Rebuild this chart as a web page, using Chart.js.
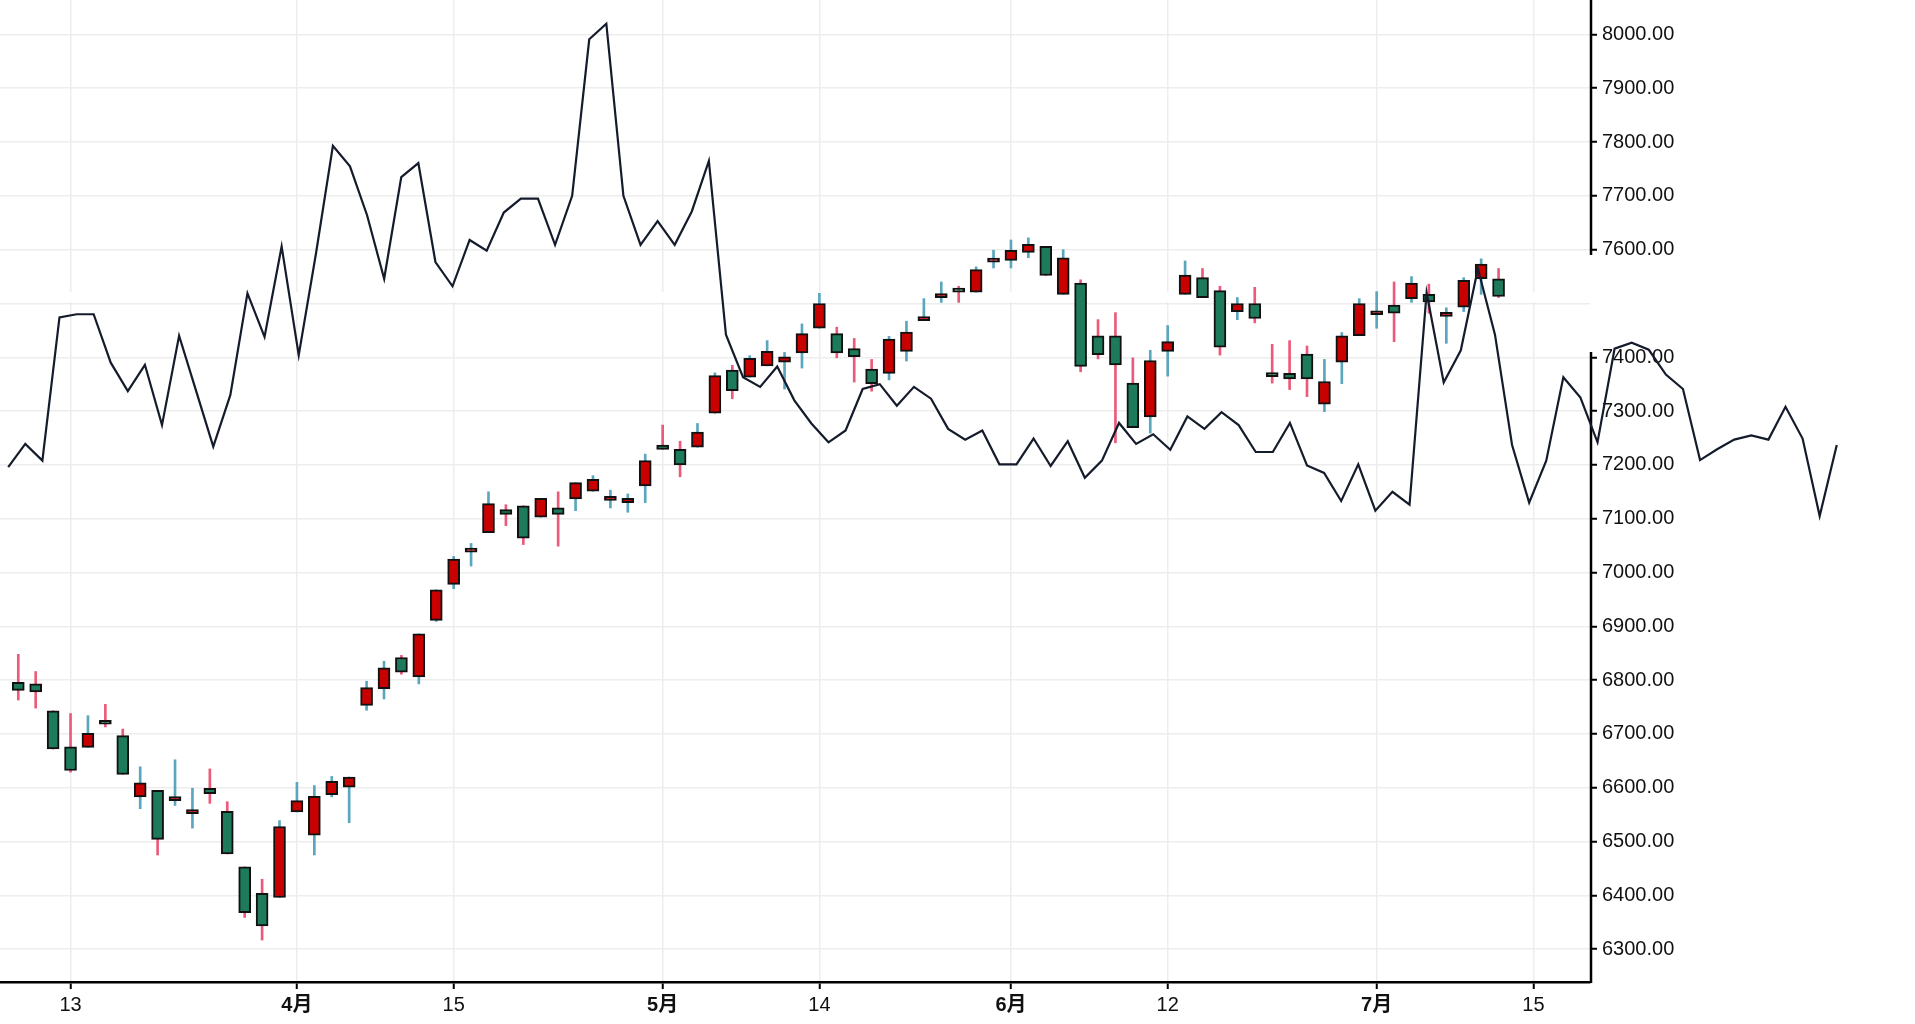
<!DOCTYPE html>
<html><head><meta charset="utf-8">
<script src="https://cdn.jsdelivr.net/npm/chart.js@4/dist/chart.umd.min.js"></script>
<style>html,body{margin:0;padding:0;background:#fff;overflow:hidden}canvas{display:block}</style>
</head><body>
<canvas id="c" width="1915" height="1024"></canvas>
<script>
// ---- data (trading-day index 0..85) ----
const candleOpen  = [6796,6793,6743,6676,6675,6722,6697,6583,6595,6576,6552,6599,6556,6453,6404,6396,6555,6512,6587,6601,6753,6784,6842,6806,6911,6978,7038,7074,7117,7124,7103,7120,7137,7151,7134,7130,7161,7237,7229,7233,7296,7376,7363,7384,7391,7408,7454,7444,7416,7378,7370,7411,7468,7511,7525,7521,7577,7580,7595,7606,7517,7538,7440,7440,7352,7289,7411,7517,7548,7524,7485,7500,7368,7370,7406,7313,7391,7440,7479,7497,7509,7517,7476,7493,7546,7546];
const candleClose = [6781,6778,6672,6632,6701,6718,6625,6609,6504,6579,6556,6589,6477,6368,6343,6528,6576,6584,6612,6620,6786,6823,6815,6886,6968,7025,7042,7128,7108,7064,7138,7108,7167,7173,7138,7138,7208,7229,7200,7261,7366,7338,7398,7411,7401,7444,7500,7408,7401,7351,7434,7447,7472,7517,7521,7563,7581,7599,7610,7552,7585,7383,7405,7386,7269,7394,7429,7553,7511,7419,7500,7472,7364,7360,7360,7355,7440,7500,7483,7482,7538,7503,7483,7543,7573,7513];
const candleHigh  = [6848,6816,6743,6738,6734,6755,6709,6639,6595,6652,6599,6635,6574,6453,6430,6539,6610,6604,6621,6620,6798,6835,6846,6886,6968,7030,7054,7150,7126,7124,7138,7150,7167,7180,7153,7146,7220,7274,7244,7277,7371,7385,7403,7431,7409,7462,7519,7456,7435,7396,7439,7467,7509,7540,7532,7568,7599,7618,7622,7606,7600,7544,7470,7483,7399,7413,7459,7579,7565,7532,7511,7530,7424,7431,7421,7396,7446,7509,7522,7540,7550,7536,7492,7548,7583,7565];
const candleLow   = [6763,6748,6672,6629,6675,6713,6625,6561,6475,6567,6525,6571,6477,6359,6317,6396,6555,6475,6583,6535,6744,6765,6811,6793,6909,6970,7012,7074,7087,7052,7103,7049,7115,7151,7120,7112,7130,7229,7178,7233,7296,7323,7363,7384,7341,7380,7454,7399,7354,7337,7358,7393,7468,7502,7502,7521,7566,7566,7585,7552,7517,7373,7397,7241,7269,7259,7365,7517,7511,7404,7470,7464,7352,7340,7327,7299,7351,7440,7454,7429,7502,7482,7426,7485,7517,7511];
// overlay line (its own, denser day axis, index 0..107)
const lineValues = [7196,7239,7208,7474,7480,7480,7390,7337,7386,7274,7440,7337,7234,7330,7519,7438,7606,7404,7591,7793,7755,7664,7546,7735,7761,7577,7532,7618,7598,7669,7695,7695,7609,7700,7991,8020,7700,7609,7653,7609,7671,7765,7442,7363,7345,7383,7320,7277,7242,7264,7341,7350,7310,7345,7323,7267,7247,7264,7201,7201,7249,7198,7244,7176,7208,7278,7239,7257,7228,7290,7267,7298,7274,7224,7224,7278,7199,7185,7133,7201,7115,7150,7126,7520,7353,7413,7565,7442,7237,7130,7208,7363,7325,7242,7416,7427,7414,7368,7341,7209,7229,7247,7255,7247,7308,7249,7105,7237];
const tickIndex  = [3,16,25,37,46,57,66,78,87];
const tickLabels = ['13','4月','15','5月','14','6月','12','7月','15'];
const yTicks = [6300,6400,6500,6600,6700,6800,6900,7000,7100,7200,7300,7400,7500,7600,7700,7800,7900,8000];
const hiddenYTick = 7500;

const UP_BODY = '#c80000', DOWN_BODY = '#1d7b5b', UP_WICK = '#5aa6be', DOWN_WICK = '#ec5a7a';
const FONT = "'Liberation Sans', Arial, 'Noto Sans CJK SC', sans-serif";

const up = candleOpen.map((o, i) => candleClose[i] > o);
const bodyData = candleOpen.map((o, i) => ({x: i, y: [o, candleClose[i]]}));
const wickData = candleOpen.map((o, i) => ({x: i, y: [candleLow[i], candleHigh[i]]}));
const lineData = lineValues.map((v, k) => ({x: k, y: v}));
const monthTicks = tickIndex.filter((v, i) => tickLabels[i].includes('月'));

const decoPlugin = {
  id: 'deco',
  beforeDatasetsDraw(chart) {
    const {ctx, chartArea: a, scales: {y}} = chart;
    ctx.save();
    ctx.fillStyle = '#fff';
    const t = y.getPixelForValue(7521), b = y.getPixelForValue(7503);
    ctx.fillRect(a.left, t, a.right - a.left, b - t);
    // right spine, broken between 7600 and 7400
    ctx.strokeStyle = '#000';
    ctx.lineWidth = 2.5;
    const x = a.right + 1;
    ctx.beginPath();
    ctx.moveTo(x, a.top); ctx.lineTo(x, y.getPixelForValue(7590));
    ctx.moveTo(x, y.getPixelForValue(7410)); ctx.lineTo(x, a.bottom + 1);
    ctx.stroke();
    ctx.restore();
  }
};

new Chart(document.getElementById('c'), {
  type: 'bar',
  data: {
    datasets: [
      {
        type: 'line', label: 'line', data: lineData, xAxisID: 'x2', yAxisID: 'y',
        borderColor: '#141b2b', borderWidth: 2.2, pointRadius: 0, tension: 0, clip: false, order: 0
      },
      {
        label: 'body', data: bodyData, xAxisID: 'x', yAxisID: 'y', grouped: false,
        backgroundColor: up.map(u => u ? UP_BODY : DOWN_BODY),
        borderColor: '#111', borderWidth: 2, borderSkipped: false,
        barThickness: 12, minBarLength: 4, order: 1
      },
      {
        label: 'wick', data: wickData, xAxisID: 'x', yAxisID: 'y', grouped: false,
        backgroundColor: up.map(u => u ? UP_WICK : DOWN_WICK),
        borderWidth: 0, barThickness: 2, order: 2
      }
    ]
  },
  options: {
    responsive: false, animation: false, devicePixelRatio: 1,
    layout: {padding: 0},
    plugins: {legend: {display: false}, tooltip: {enabled: false}},
    scales: {
      x: {
        type: 'linear', position: 'bottom', min: -1.05, max: 90.25, bounds: 'data', offset: false,
        afterBuildTicks: s => { s.ticks = tickIndex.map(v => ({value: v})); },
        afterFit: s => { s.height = 42; s.paddingLeft = 0; s.paddingRight = 0; },
        ticks: {
          padding: 4, color: '#111', maxRotation: 0, autoSkip: false,
          font: c => ({family: FONT, size: 20, weight: (c.tick && monthTicks.includes(c.tick.value)) ? 'bold' : 'normal'}),
          callback: v => { const j = tickIndex.indexOf(v); return j >= 0 ? tickLabels[j] : ''; }
        },
        grid: {offset: false, color: '#ededed', lineWidth: 1.5, tickColor: '#000', tickLength: 7, tickWidth: 2},
        border: {display: true, color: '#000', width: 2.5}
      },
      x2: {
        type: 'linear', display: false, bounds: 'data', offset: false, grid: {offset: false},
        afterDataLimits: s => { s.min = -0.48; s.max = 92.56; }
      },
      y: {
        type: 'linear', position: 'right', min: 6239, max: 8064,
        afterBuildTicks: s => { s.ticks = yTicks.map(v => ({value: v})); },
        afterFit: s => { s.width = 325; s.paddingTop = 0; s.paddingBottom = 0; },
        ticks: {
          padding: 5, color: '#111', font: {family: FONT, size: 20},
          callback: v => v === hiddenYTick ? '' : v.toFixed(2)
        },
        grid: {
          color: '#ededed', lineWidth: 1.5, tickLength: 7, tickWidth: 2,
          tickColor: c => (c.tick && c.tick.value === hiddenYTick) ? 'rgba(0,0,0,0)' : '#000'
        },
        border: {display: false}
      }
    }
  },
  plugins: [decoPlugin]
});
</script>
</body></html>
